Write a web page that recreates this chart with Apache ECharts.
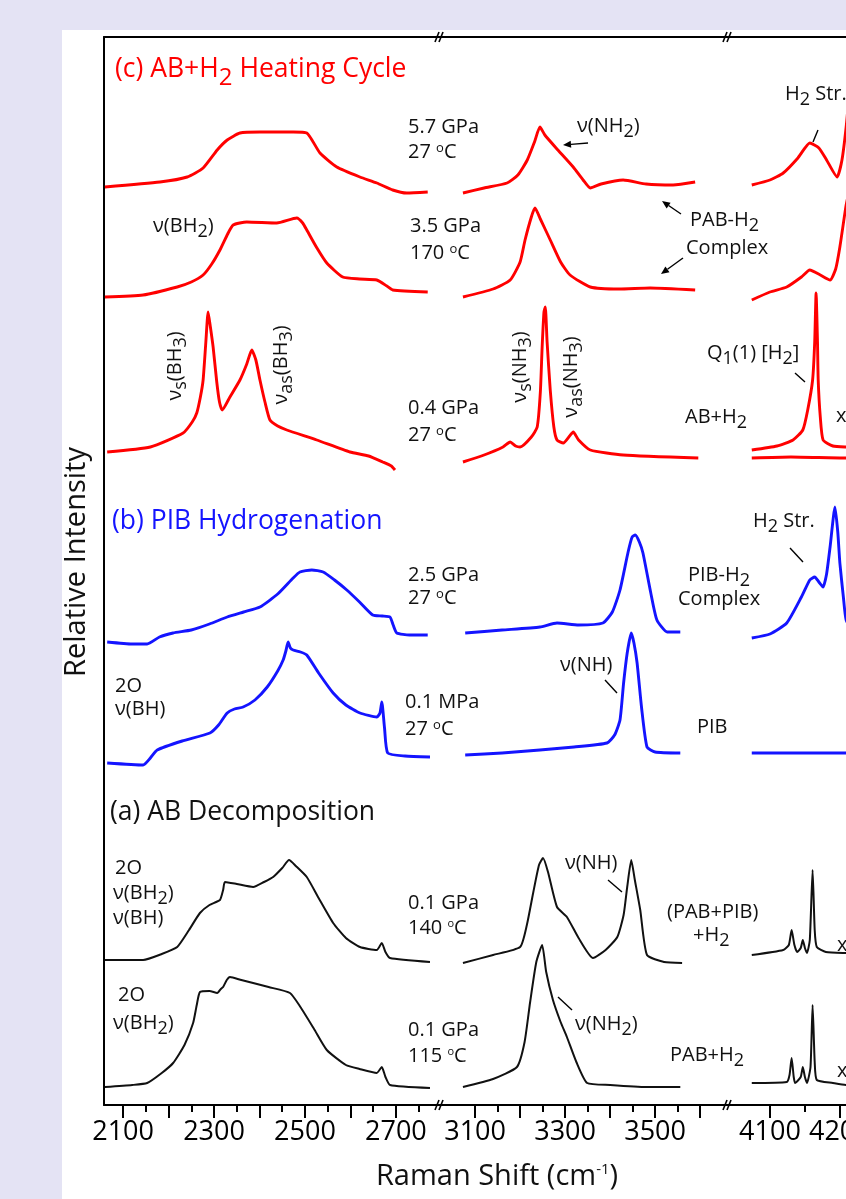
<!DOCTYPE html>
<html><head><meta charset="utf-8">
<script src="https://cdn.jsdelivr.net/npm/echarts@6/dist/echarts.min.js"></script>
<style>
html,body{margin:0;padding:0;width:846px;height:1199px;overflow:hidden;background:#e4e3f4;}
#panel{position:absolute;left:62px;top:30px;width:784px;height:1169px;background:#ffffff;}
#chart{position:absolute;left:0;top:0;width:846px;height:1199px;}
</style></head><body><div id="panel"></div><div id="chart"></div>
<script>
// ---------------- DATA ----------------
// Axis segments (broken x axis, Raman shift in cm^-1)
const segMin = [2058, 3022, 4040];
const segMax = [2797, 3662, 4286];
const majorTicks = [[2100,2200,2300,2400,2500,2600,2700],[3100,3200,3300,3400,3500,3600],[4100,4200]];
const minorTicks = [[2150,2250,2350,2450,2550,2650,2750],[3150,3250,3350,3450,3550],[4150,4250]];
const tickLabels = [[2100,2300,2500,2700],[3100,3300,3500],[4100,4200]];

// Vertical stacking offsets of each spectrum (relative intensity units)
const traceNames   = ['5.7 GPa 27 C','3.5 GPa 170 C','0.4 GPa 27 C','2.5 GPa 27 C','0.1 MPa 27 C','0.1 GPa 140 C','0.1 GPa 115 C'];
const traceOffsets = [915, 808, 653, 463, 342, 145, 18];

// Spectra: [Raman shift, intensity above own baseline]
// (c) 5.7 GPa
const c57_s1 = [[2060,3],[2181,8],[2241,13],[2276,22],[2307,40],[2329,50],[2357,57],[2401,58],[2474,58],[2504,57],[2533,37],[2570,23],[2621,13],[2658,7],[2693,0],[2724,-3],[2770,-2]];
const c57_s2 = [[3073,-3],[3120,2],[3171,7],[3195,15],[3216,30],[3232,48],[3244,63],[3255,55],[3280,42],[3318,23],[3340,10],[3356,2],[3380,6],[3429,10],[3480,6],[3540,5],[3589,8]];
const c57_s3 = [[4074,5],[4100,10],[4119,17],[4140,32],[4157,47],[4170,42],[4181,30],[4196,13],[4203,30],[4209,63],[4214,100],[4220,125]];
// (c) 3.5 GPa 170 C
const c35_s1 = [[2060,0],[2144,2],[2219,10],[2250,15],[2276,22],[2295,33],[2313,47],[2330,63],[2342,72],[2372,75],[2438,74],[2482,79],[2495,74],[2504,67],[2525,50],[2548,34],[2583,20],[2620,18],[2658,17],[2680,11],[2693,7],[2770,5]];
const c35_s2 = [[3073,0],[3140,8],[3178,17],[3200,35],[3211,57],[3225,80],[3233,89],[3245,78],[3267,57],[3290,35],[3311,22],[3356,10],[3420,8],[3489,9],[3589,7]];
const c35_s3 = [[4074,-3],[4100,5],[4124,10],[4145,20],[4157,27],[4172,22],[4186,17],[4194,28],[4200,50],[4209,92],[4216,115]];
// (c) 0.4 GPa (AB+H2)
const c04_s1 = [[2065,0],[2160,5],[2232,19],[2252,30],[2262,39],[2270,55],[2276,72],[2282,110],[2287,140],[2292,125],[2298,105],[2306,70],[2312,50],[2318,42],[2335,55],[2357,72],[2372,88],[2383,102],[2392,92],[2401,72],[2412,50],[2423,32],[2440,26],[2460,22],[2526,12],[2599,0],[2640,-4],[2671,-10],[2690,-14],[2698,-18]];
const c04_s2 = [[3073,-10],[3120,-3],[3162,5],[3178,10],[3190,6],[3200,5],[3225,15],[3238,25],[3245,60],[3249,105],[3253,140],[3256,145],[3260,110],[3267,62],[3275,25],[3282,12],[3296,9],[3310,16],[3318,20],[3330,12],[3356,2],[3429,-3],[3596,-6]];
const c04_s3 = [[4074,2],[4110,6],[4133,12],[4147,22],[4154,42],[4161,72],[4164,110],[4166,159],[4168,110],[4169,72],[4172,35],[4176,12],[4190,6],[4209,5],[4260,4]];
const c04b_s3 = [[4074,-6],[4130,-5],[4209,-6],[4260,-6]];
// (b) 2.5 GPa (PIB-H2 complex)
const b25_s1 = [[2065,0],[2120,-2],[2153,-2],[2180,5],[2210,9],[2250,12],[2290,18],[2329,25],[2365,30],[2401,35],[2440,48],[2474,64],[2489,70],[2515,72],[2540,70],[2565,62],[2592,52],[2620,40],[2649,27],[2670,26],[2687,25],[2694,17],[2702,9],[2730,7],[2770,7]];
const b25_s2 = [[3078,9],[3160,12],[3244,15],[3282,19],[3330,17],[3384,19],[3405,30],[3422,52],[3440,90],[3449,105],[3456,107],[3465,100],[3473,89],[3490,50],[3504,22],[3527,10],[3556,10]];
const b25_s3 = [[4074,4],[4100,8],[4124,19],[4145,45],[4157,62],[4164,65],[4170,60],[4176,55],[4181,68],[4186,95],[4193,135],[4197,110],[4200,79],[4205,45],[4209,22],[4220,10],[4260,8]];
// (b) 0.1 MPa (PIB)
const b01_s1 = [[2065,0],[2144,-2],[2160,5],[2175,13],[2230,22],[2291,30],[2310,38],[2329,50],[2345,54],[2364,56],[2390,63],[2417,76],[2440,92],[2452,103],[2458,112],[2463,121],[2468,115],[2474,113],[2490,111],[2504,108],[2530,90],[2562,70],[2590,58],[2621,50],[2658,46],[2665,50],[2669,61],[2675,35],[2682,10],[2720,7],[2775,6]];
const b01_s2 = [[3078,8],[3160,10],[3244,13],[3320,16],[3393,20],[3410,28],[3422,43],[3430,80],[3438,110],[3447,130],[3453,120],[3460,100],[3470,55],[3482,16],[3500,11],[3556,10]];
const b01_s3 = [[4074,10],[4150,10],[4209,10],[4260,10]];
// (a) 0.1 GPa 140 C ((PAB+PIB)+H2)
const a140_s1 = [[2060,0],[2144,0],[2185,6],[2219,13],[2245,30],[2269,47],[2290,55],[2313,60],[2320,70],[2324,78],[2350,76],[2386,73],[2410,78],[2430,83],[2450,92],[2465,100],[2480,94],[2504,83],[2530,62],[2562,37],[2590,22],[2621,13],[2658,10],[2669,17],[2677,8],[2687,2],[2775,-2]];
const a140_s2 = [[3073,-3],[3140,5],[3200,13],[3215,35],[3229,67],[3242,95],[3251,102],[3262,88],[3282,53],[3304,43],[3330,22],[3362,2],[3390,10],[3416,23],[3430,45],[3438,73],[3447,100],[3455,80],[3467,50],[3482,5],[3520,-2],[3560,-3]];
const a140_s3 = [[4074,5],[4119,10],[4127,15],[4131,30],[4135,15],[4139,8],[4144,12],[4147,20],[4150,12],[4153,7],[4157,20],[4161,90],[4164,30],[4167,13],[4180,8],[4209,7],[4260,6]];
// (a) 0.1 GPa 115 C (PAB+H2)
const a115_s1 = [[2060,0],[2120,2],[2153,4],[2185,14],[2210,24],[2235,42],[2254,64],[2262,82],[2269,95],[2290,96],[2307,94],[2315,98],[2320,100],[2328,107],[2335,110],[2360,107],[2386,104],[2420,100],[2467,94],[2490,80],[2520,58],[2548,37],[2590,22],[2620,18],[2658,14],[2669,20],[2677,10],[2687,2],[2775,-1]];
const a115_s2 = [[3073,0],[3140,8],[3193,20],[3210,45],[3222,84],[3236,125],[3249,142],[3258,115],[3273,87],[3290,65],[3304,50],[3325,25],[3349,4],[3400,2],[3480,0],[3556,0]];
const a115_s3 = [[4074,4],[4124,5],[4128,12],[4131,29],[4134,10],[4136,4],[4144,10],[4147,20],[4150,10],[4153,4],[4158,20],[4161,82],[4164,25],[4167,7],[4190,4],[4209,2],[4260,2]];

// ---------------- STYLE / LAYOUT ----------------
const FF = "'Open Sans','Noto Sans',sans-serif";
const RED = '#ff0000', BLUE = '#1414ff', BLK = '#111111';
const gridLeft = [104, 440, 728], gridWidth = [336, 288, 172];
const TOP = 37, H = 1068;

const traceSpecs = [
  [0, c57_s1, c57_s2, c57_s3, RED],
  [1, c35_s1, c35_s2, c35_s3, RED],
  [2, c04_s1, c04_s2, c04_s3, RED],
  [3, b25_s1, b25_s2, b25_s3, BLUE],
  [4, b01_s1, b01_s2, b01_s3, BLUE],
  [5, a140_s1, a140_s2, a140_s3, BLK],
  [6, a115_s1, a115_s2, a115_s3, BLK]
];

const grids = [], xAxes = [], yAxes = [], series = [];
for (let g = 0; g < 3; g++) {
  grids.push({left: gridLeft[g], top: TOP, width: gridWidth[g], height: H, containLabel: false, outerBoundsMode: 'none'});
  xAxes.push({type:'value', gridIndex:g, min:segMin[g], max:segMax[g], position:'bottom',
    axisLine:{show:true, onZero:false, lineStyle:{color:'#000', width:2}},
    axisTick:{show:true, inside:false, length:7, customValues:minorTicks[g], lineStyle:{color:'#000', width:2}},
    axisLabel:{show:true, customValues:tickLabels[g], margin:14, fontSize:27, fontFamily:FF, color:'#000', formatter: v => String(v)},
    splitLine:{show:false}});
  xAxes.push({type:'value', gridIndex:g, min:segMin[g], max:segMax[g], position:'bottom',
    axisLine:{show:false, onZero:false},
    axisTick:{show:true, inside:false, length:13, customValues:majorTicks[g], lineStyle:{color:'#000', width:2}},
    axisLabel:{show:false}, splitLine:{show:false}});
  xAxes.push({type:'value', gridIndex:g, min:segMin[g], max:segMax[g], position:'top',
    axisLine:{show:true, onZero:false, lineStyle:{color:'#000', width:2}},
    axisTick:{show:false}, axisLabel:{show:false}, splitLine:{show:false}});
  yAxes.push({type:'value', gridIndex:g, min:0, max:H, show: g === 0, position:'left',
    axisLine:{show:true, onZero:false, lineStyle:{color:'#000', width:2}},
    axisTick:{show:false}, axisLabel:{show:false}, splitLine:{show:false}});
}

function addSeries(g, pts, off, color) {
  series.push({type:'line', xAxisIndex: g*3, yAxisIndex: g, data: pts.map(p => [p[0], off + p[1]]),
    symbol:'none', showSymbol:false, silent:true, animation:false, clip:true, z:3, smooth:0.18,
    lineStyle:{color:color, width: color === BLK ? 2 : 2.9, join:'round'}, itemStyle:{color:color}});
}
traceSpecs.forEach(t => {
  const off = traceOffsets[t[0]];
  addSeries(0, t[1], off, t[4]);
  addSeries(1, t[2], off, t[4]);
  addSeries(2, t[3], off, t[4]);
});
addSeries(2, c04b_s3, traceOffsets[2], RED);

// ---------- annotations ----------
function toRich(str) {
  let out = '', buf = '', i = 0;
  const flush = () => { if (buf) { out += '{n|' + buf + '}'; buf = ''; } };
  while (i < str.length) {
    const ch = str[i];
    if (ch === '_' || ch === '^') {
      flush();
      let t;
      if (str[i+1] === '{') { const j = str.indexOf('}', i+2); t = str.slice(i+2, j); i = j + 1; }
      else { t = str[i+1]; i += 2; }
      out += '{' + (ch === '_' ? 's' : 'p') + '|' + t + '}';
    } else { buf += ch; i++; }
  }
  flush();
  return out;
}
function txt(x, y, s, f, color, opt) {
  opt = opt || {};
  const L = Math.round(f * 1.2);
  const d = Math.round(f * 0.36);
  const rot = opt.rot || 0;
  const ps = opt.supSize || 0.66;
  return {
    type:'text', x: x, y: rot ? y : y - L / 2, rotation: rot, silent:true, z: 20,
    style: {
      text: toRich(s),
      rich: {
        n:{fontSize:f, fontFamily:FF, fill:color, lineHeight:L, verticalAlign:'top'},
        s:{fontSize:Math.round(f*0.92), fontFamily:FF, fill:color, lineHeight:L, padding:[d,0,0,0], verticalAlign:'top'},
        p:{fontSize:Math.round(f*ps), fontFamily:FF, fill:color, lineHeight:Math.round(f*0.5), padding:[0,0,Math.round(f*0.45),0], verticalAlign:'top'}
      },
      textAlign: opt.align || 'left',
      textVerticalAlign: rot ? 'middle' : 'top'
    }
  };
}
function seg(x1, y1, x2, y2, w) {
  return {type:'line', silent:true, z:20, shape:{x1:x1, y1:y1, x2:x2, y2:y2}, style:{stroke:'#000', lineWidth: w || 1.4}};
}
function arrow(tx, ty, hx, hy) {
  const dx = tx - hx, dy = ty - hy, n = Math.hypot(dx, dy), ux = dx/n, uy = dy/n;
  const bx = hx + 8*ux, by = hy + 8*uy, px = -uy*3.5, py = ux*3.5;
  return [seg(tx, ty, bx, by, 1.4),
    {type:'polygon', silent:true, z:20, shape:{points:[[hx,hy],[bx+px,by+py],[bx-px,by-py]]}, style:{fill:'#000'}}];
}
function brk(x, y) {
  return [seg(x-5, y+5, x-1, y-5, 1.6), seg(x-1, y+5, x+3, y-5, 1.6)];
}

const A = 20; // annotation font
const graphics = [
  txt(115, 72, '(c) AB+H_2 Heating Cycle', 26.5, RED),
  txt(112, 524, '(b) PIB Hydrogenation', 26.5, BLUE),
  txt(110, 815, '(a) AB Decomposition', 26.5, BLK),

  txt(408, 129, '5.7 GPa', A, BLK), txt(408, 154, '27 ^oC', A, BLK),
  txt(410, 228, '3.5 GPa', A, BLK), txt(410, 255, '170 ^oC', A, BLK),
  txt(408, 410, '0.4 GPa', A, BLK), txt(408, 437, '27 ^oC', A, BLK),
  txt(408, 577, '2.5 GPa', A, BLK), txt(408, 600, '27 ^oC', A, BLK),
  txt(405, 704, '0.1 MPa', A, BLK), txt(405, 731, '27 ^oC', A, BLK),
  txt(408, 905, '0.1 GPa', A, BLK), txt(408, 930, '140 ^oC', A, BLK, {supSize:0.55}),
  txt(408, 1032, '0.1 GPa', A, BLK), txt(408, 1058, '115 ^oC', A, BLK, {supSize:0.55}),

  txt(153, 228, 'ν(BH_2)', A, BLK),
  txt(115, 688, '2O', A, BLK), txt(115, 711, 'ν(BH)', A, BLK),
  txt(115, 870, '2O', A, BLK), txt(113, 895, 'ν(BH_2)', A, BLK), txt(113, 920, 'ν(BH)', A, BLK),
  txt(118, 997, '2O', A, BLK), txt(113, 1025, 'ν(BH_2)', A, BLK),

  txt(177, 366, 'ν_s(BH_3)', A, BLK, {rot: Math.PI/2, align:'center'}),
  txt(283, 365, 'ν_{as}(BH_3)', A, BLK, {rot: Math.PI/2, align:'center'}),
  txt(522, 367, 'ν_s(NH_3)', A, BLK, {rot: Math.PI/2, align:'center'}),
  txt(573, 377, 'ν_{as}(NH_3)', A, BLK, {rot: Math.PI/2, align:'center'}),

  txt(577, 128, 'ν(NH_2)', A, BLK),
  txt(690, 222, 'PAB-H_2', A, BLK), txt(686, 250, 'Complex', A, BLK),
  txt(707, 355, 'Q_1(1) [H_2]', A, BLK),
  txt(685, 419, 'AB+H_2', A, BLK),
  txt(836, 418, 'x4', A, BLK),
  txt(785, 96, 'H_2 Str.', A, BLK),
  txt(688, 577, 'PIB-H_2', A, BLK), txt(678, 601, 'Complex', A, BLK),
  txt(753, 523, 'H_2 Str.', A, BLK),
  txt(560, 667, 'ν(NH)', A, BLK),
  txt(697, 729, 'PIB', A, BLK),
  txt(565, 865, 'ν(NH)', A, BLK),
  txt(667, 914, '(PAB+PIB)', A, BLK), txt(693, 937, '+H_2', A, BLK),
  txt(837, 947, 'x4', A, BLK),
  txt(575, 1026, 'ν(NH_2)', A, BLK),
  txt(670, 1057, 'PAB+H_2', A, BLK),
  txt(837, 1073, 'x4', A, BLK),

  seg(795, 373, 805, 382), seg(818, 130, 813, 142), seg(790, 548, 803, 562),
  seg(605, 680, 617, 693), seg(608, 880, 622, 892), seg(558, 997, 572, 1010),

  txt(80, 562, 'Relative Intensity', 29, BLK, {rot: Math.PI/2, align:'center'}),
  txt(497, 1180, 'Raman Shift (cm^{-1})', 29, BLK, {align:'center', supSize:0.5})
].concat(arrow(588, 143, 563, 145), arrow(681, 214, 662, 201), arrow(683, 258, 661, 274),
  brk(440, 37), brk(728, 37), brk(440, 1105), brk(728, 1105));

const chart = echarts.init(document.getElementById('chart'), null, {renderer:'canvas'});
chart.setOption({
  backgroundColor:'transparent',
  animation:false,
  grid: grids, xAxis: xAxes, yAxis: yAxes, series: series,
  graphic: {elements: graphics}
});
</script></body></html>
